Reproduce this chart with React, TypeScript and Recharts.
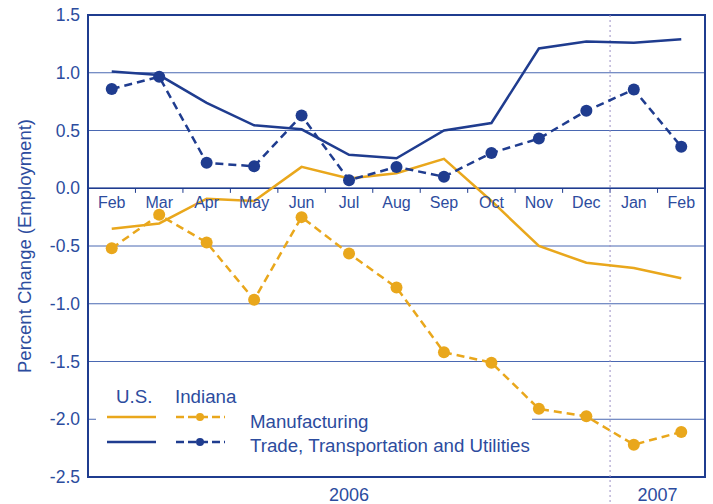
import { LineChart, Line, XAxis, YAxis, CartesianGrid, ReferenceLine, ReferenceArea, ReferenceDot, Legend } from 'recharts';

const months = ['Feb', 'Mar', 'Apr', 'May', 'Jun', 'Jul', 'Aug', 'Sep', 'Oct', 'Nov', 'Dec', 'Jan', 'Feb'];
const usManufacturing = [-0.35, -0.305, -0.09, -0.11, 0.185, 0.085, 0.13, 0.255, -0.11, -0.5, -0.645, -0.69, -0.78];
const inManufacturing = [-0.52, -0.23, -0.47, -0.965, -0.25, -0.565, -0.86, -1.42, -1.51, -1.91, -1.975, -2.22, -2.11];
const usTrade = [1.01, 0.98, 0.74, 0.545, 0.51, 0.29, 0.26, 0.5, 0.565, 1.21, 1.27, 1.26, 1.29];
const inTrade = [0.86, 0.965, 0.22, 0.19, 0.63, 0.07, 0.185, 0.1, 0.305, 0.43, 0.67, 0.855, 0.36];
const yTicks = [1.5, 1.0, 0.5, 0, -0.5, -1.0, -1.5, -2.0, -2.5];
const years = ['2006', '2007'];
const yearFirstMonth = [0, 11]; // index where each year starts

const GOLD = '#e9a71c';
const BLUE = '#1f3c8f';
const TEXT = '#2c4c9e';
const GRID = '#4a68b2';
const FONT = '"Liberation Sans", Arial, sans-serif';

const data = months.map((m, i) => ({
  x: i,
  month: m,
  usMfg: usManufacturing[i],
  inMfg: inManufacturing[i],
  usTrade: usTrade[i],
  inTrade: inTrade[i],
}));

const yearCenters = yearFirstMonth.map((start, i) => {
  const end = i + 1 < yearFirstMonth.length ? yearFirstMonth[i + 1] - 1 : months.length - 1;
  return (start + end) / 2;
});

// legend sits over the plot; only a white strip hides the -2.0 gridline behind the text
function LegendBox() {
  return (
    <svg width={438} height={76} style={{ display: 'block', overflow: 'visible' }}>
      <rect x={0} y={29} width={436} height={16} fill="#fff" />
      <g fontFamily={FONT} fontSize={18.7} fill={TEXT}>
        <text x={20} y={20}>U.S.</text>
        <text x={79} y={20}>Indiana</text>
        <text x={154} y={45}>Manufacturing</text>
        <text x={154} y={69}>Trade, Transportation and Utilities</text>
      </g>
      <line x1={11} x2={60} y1={34} y2={34} stroke={GOLD} strokeWidth={2.5} />
      <line x1={80} x2={129} y1={34} y2={34} stroke={GOLD} strokeWidth={2.5} strokeDasharray="8 4" />
      <circle cx={104} cy={34} r={4} fill={GOLD} />
      <line x1={11} x2={60} y1={59} y2={59} stroke={BLUE} strokeWidth={2.5} />
      <line x1={80} x2={129} y1={59} y2={59} stroke={BLUE} strokeWidth={2.5} strokeDasharray="8 4" />
      <circle cx={104} cy={59} r={4} fill={BLUE} />
    </svg>
  );
}

export default function App() {
  return (
    <div style={{ position: 'absolute', left: 0, top: 0, fontFamily: FONT }}>
      <style>{'body{margin:0}'}</style>
      <LineChart width={713} height={504} data={data} margin={{ top: 15, right: 8, bottom: 0, left: 0 }}>
        <CartesianGrid horizontal vertical={false} stroke={GRID} strokeWidth={1} />
        <XAxis
          dataKey="x"
          type="number"
          domain={[-0.5, 12.5]}
          allowDataOverflow
          ticks={yearCenters}
          interval={0}
          tickFormatter={(v: number) => years[yearCenters.indexOf(v)] ?? ''}
          axisLine={false}
          tickLine={false}
          tickMargin={5}
          height={27}
          tick={{ fill: TEXT, fontSize: 18, fontFamily: FONT }}
        />
        <YAxis
          type="number"
          domain={[-2.5, 1.5]}
          allowDataOverflow
          ticks={yTicks}
          interval={0}
          tickFormatter={(v: number) => v.toFixed(1)}
          axisLine={false}
          tickLine={false}
          width={88}
          tick={{ fill: TEXT, fontSize: 17.5, fontFamily: FONT }}
          label={{
            value: 'Percent Change (Employment)',
            angle: -90,
            position: 'center',
            dx: -20,
            fill: TEXT,
            fontSize: 18.5,
            fontFamily: FONT,
          }}
        />
        <ReferenceLine y={0} stroke={BLUE} strokeWidth={1.5} />
        {months.slice(1).map((_, i) => (
          <ReferenceLine
            key={'tk' + i}
            segment={[{ x: i + 0.5, y: 0 }, { x: i + 0.5, y: -0.04 }]}
            stroke={BLUE}
            strokeWidth={1}
          />
        ))}
        <ReferenceLine
          segment={[{ x: yearFirstMonth[1] - 0.5, y: 1.5 }, { x: yearFirstMonth[1] - 0.5, y: -2.73 }]}
          stroke="#9a8fc4"
          strokeWidth={1}
          strokeDasharray="2 3"
          ifOverflow="visible"
        />
        {months.map((m, i) => (
          <ReferenceDot
            key={'m' + i}
            x={i}
            y={0}
            r={0}
            fill="none"
            stroke="none"
            label={{ value: m, position: 'bottom', offset: 8, fill: TEXT, fontSize: 16, fontFamily: FONT }}
          />
        ))}
        <ReferenceArea x1={-0.5} x2={12.5} y1={-2.5} y2={1.5} fill="none" fillOpacity={0} stroke={BLUE} strokeWidth={2} />
        <Legend
          layout="horizontal"
          verticalAlign="middle"
          align="center"
          wrapperStyle={{ left: 96, top: 383, width: 438, height: 76 }}
          content={() => <LegendBox />}
        />
        <Line type="linear" dataKey="usMfg" stroke={GOLD} strokeWidth={2.5} dot={false} activeDot={false} isAnimationActive={false} />
        <Line type="linear" dataKey="usTrade" stroke={BLUE} strokeWidth={2.5} dot={false} activeDot={false} isAnimationActive={false} />
        <Line
          type="linear"
          dataKey="inMfg"
          stroke={GOLD}
          strokeWidth={2.5}
          strokeDasharray="8 5"
          dot={{ r: 6, fill: GOLD, stroke: GOLD, strokeWidth: 0, strokeDasharray: '' }}
          activeDot={false}
          isAnimationActive={false}
        />
        <Line
          type="linear"
          dataKey="inTrade"
          stroke={BLUE}
          strokeWidth={2.5}
          strokeDasharray="8 5"
          dot={{ r: 6, fill: BLUE, stroke: BLUE, strokeWidth: 0, strokeDasharray: '' }}
          activeDot={false}
          isAnimationActive={false}
        />
      </LineChart>
    </div>
  );
}
